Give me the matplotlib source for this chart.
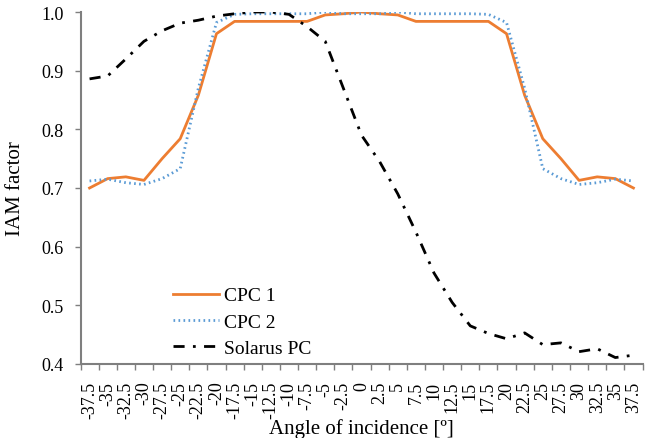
import matplotlib
matplotlib.use("Agg")
import matplotlib.pyplot as plt
import numpy as np

angles = ["-37.5", "-35", "-32.5", "-30", "-27.5", "-25", "-22.5", "-20", "-17.5", "-15",
          "-12.5", "-10", "-7.5", "-5", "-2.5", "0", "2.5", "5", "7.5", "10", "12.5",
          "15", "17.5", "20", "22.5", "25", "27.5", "30", "32.5", "35", "37.5"]

cpc1 = [0.700, 0.716, 0.719, 0.713, 0.750, 0.784, 0.858, 0.963, 0.984, 0.984,
        0.984, 0.984, 0.984, 0.995, 0.997, 1.000, 0.997, 0.995, 0.984, 0.984,
        0.984, 0.984, 0.984, 0.963, 0.858, 0.784, 0.750, 0.713, 0.719, 0.716, 0.700]

cpc2 = [0.712, 0.715, 0.709, 0.706, 0.716, 0.733, 0.870, 0.982, 0.996, 0.997,
        0.997, 0.997, 0.997, 1.000, 0.997, 0.997, 0.997, 1.000, 0.997, 0.997,
        0.997, 0.997, 0.996, 0.982, 0.870, 0.733, 0.716, 0.706, 0.709, 0.715, 0.712]

solarus = [0.886, 0.891, 0.920, 0.950, 0.968, 0.981, 0.986, 0.993, 0.997, 1.000,
           1.000, 0.996, 0.975, 0.950, 0.870, 0.790, 0.745, 0.690, 0.625, 0.555,
           0.505, 0.465, 0.452, 0.443, 0.453, 0.433, 0.436, 0.421, 0.426, 0.411, 0.415]

plt.rcParams['font.family'] = ['Liberation Serif', 'DejaVu Serif']

fig = plt.figure(figsize=(6.53, 4.39), dpi=100)
ax = fig.add_axes([80.5/653, 1 - 365/439, 562/653, 352/439])

x = np.arange(len(angles))
ax.plot(x, cpc1, color='#ED7D31', lw=2.0, label='CPC 1')
ax.plot(x, cpc2, color='#5B9BD5', lw=2.0, ls=(0, (0.6, 1.2)), label='CPC 2')
ax.plot(x, solarus, color='black', lw=2.0, ls=(0, (4, 3, 1, 3)), label='Solarus PC')

ax.set_xlim(-0.5, len(angles) - 0.5)
ax.set_ylim(0.4, 1.0)
ax.set_yticks(np.arange(0.4, 1.01, 0.1))
ax.yaxis.set_major_formatter(matplotlib.ticker.FormatStrFormatter('%.1f'))

# category labels sit between the boundary tick marks
ax.set_xticks(x)
ax.set_xticklabels(angles, rotation=90)
ax.set_xticks(np.arange(-0.5, len(angles), 1), minor=True)
ax.tick_params(axis='x', which='major', length=0, pad=12, labelsize=13)
ax.tick_params(axis='x', which='minor', length=4, width=1, color='#7f7f7f', direction='out')
ax.tick_params(axis='y', length=4, width=1, color='#7f7f7f', direction='out', pad=8,
               labelsize=13)

for side in ['top', 'right']:
    ax.spines[side].set_visible(False)
for side in ['left', 'bottom']:
    ax.spines[side].set_color('#7f7f7f')
    ax.spines[side].set_linewidth(1.5)

ax.set_xlabel('Angle of incidence [º]', fontsize=15, labelpad=0)
ax.set_ylabel('IAM factor', fontsize=15, labelpad=12)

ax.legend(loc='upper left', bbox_to_anchor=(85/562, 1 - 267/352), frameon=False,
          fontsize=14, handlelength=2.35, handletextpad=0.25, labelspacing=0.45,
          borderaxespad=0)

fig.savefig('out.png', dpi=100)
